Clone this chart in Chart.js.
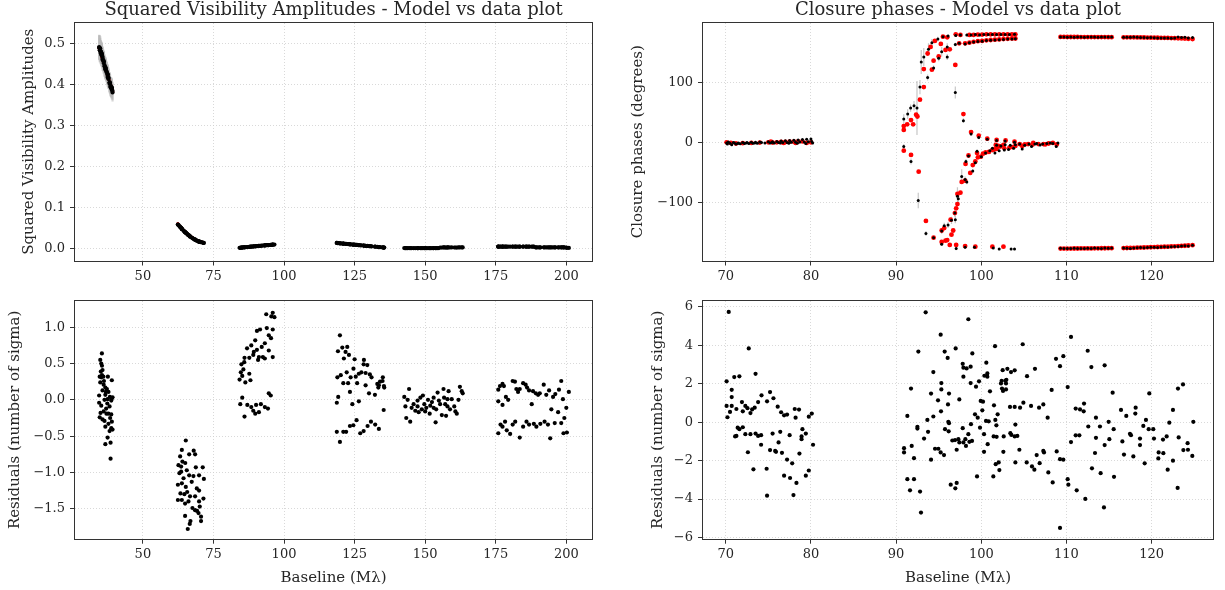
<!DOCTYPE html>
<html><head><meta charset="utf-8">
<script src="https://cdn.jsdelivr.net/npm/chart.js@4.4.1/dist/chart.umd.min.js"></script>
<style>
html,body{margin:0;padding:0;background:#fff;}
#wrap{position:relative;width:1225px;height:590px;overflow:hidden;background:#fff;}
canvas{position:absolute;}
</style></head><body>
<div id="wrap">
<canvas id="c1" width="612" height="295" style="left:0;top:0"></canvas>
<canvas id="c2" width="613" height="295" style="left:612px;top:0"></canvas>
<canvas id="c3" width="612" height="295" style="left:0;top:295px"></canvas>
<canvas id="c4" width="613" height="295" style="left:612px;top:295px"></canvas>
</div>
<script>
// ---------------- Squared visibilities: baseline (Mλ), V², sigma, residuals ----------------
const v2Baseline = [
 35.48,34.9,35.25,35.5,35.7,35.1,34.7,35.25,36.0,37.6,39.0,34.9,36.1,36.7,37.25,35.7,37.8,34.5,36.7,38.3,39.25,37.5,36.4,38.8,34.5,35.25,38.2,37.1,37.8,38.8,34.7,35.7,36.4,39.0,37.8,38.8,38.2,39.25,37.5,36.7,38.55,38.55,36.2,36.9,37.4,36.1,38.4,35.0,36.7,39.0,35.5,37.0,
 65.2,63.8,68.0,66.4,68.5,63.2,64.0,65.0,62.6,63.55,65.55,68.75,71.2,62.95,66.4,67.9,69.9,71.6,67.3,63.8,62.4,65.2,69.1,69.9,63.3,64.7,66.7,71.45,62.4,66.15,64.95,69.9,67.55,68.5,69.2,69.7,70.6,64.95,70.6,66.85,66.6,65.9,64.4,63.55,68.5,70.15,65.7,63.8,
 84.25,84.7,84.9,85.9,85.6,85.2,86.3,87.7,88.1,86.0,87.7,86.9,88.4,89.8,90.4,91.5,89.3,90.4,91.1,92.1,93.2,93.9,94.6,93.7,95.5,96.0,96.6,96.0,95.4,94.6,96.0,92.5,90.8,89.1,93.2,84.5,85.2,86.0,87.0,88.4,89.1,89.8,91.1,93.2,94.3,94.6,95.3,91.8,90.1,
 119.8,119.1,120.65,122.4,121.8,121.2,123.0,125.0,128.3,129.5,128.2,118.9,120.1,122.2,124.6,121.0,122.7,123.6,125.4,126.5,127.4,128.9,130.4,131.0,125.9,128.9,130.1,132.2,133.4,134.0,134.9,135.4,135.5,135.0,133.05,133.6,123.35,118.7,119.2,124.2,126.5,135.3,118.7,119.8,121.0,122.0,123.35,124.55,125.7,127.0,128.2,129.6,130.8,132.3,133.6,
 142.6,143.0,143.8,144.3,143.3,144.7,145.2,145.9,146.5,147.3,147.7,148.3,149.2,149.7,150.4,151.0,151.6,151.8,152.4,153.0,153.7,153.9,154.4,154.85,155.3,155.9,156.5,156.7,157.1,157.4,157.9,158.3,158.8,159.4,160.3,160.7,161.2,161.8,162.3,162.95,163.3,157.9,147.3,148.8,153.0,150.0,
 175.9,176.5,177.4,177.9,175.9,177.4,178.6,179.4,181.0,181.8,182.3,182.9,183.5,184.7,185.6,186.1,186.8,187.75,188.2,189.2,190.0,190.6,192.0,192.9,193.9,194.7,195.3,196.1,197.1,197.4,198.2,198.8,199.3,200.0,200.9,175.9,176.7,177.4,178.3,178.9,180.1,181.0,181.9,183.5,184.7,185.9,186.8,188.5,189.4,190.8,192.3,193.5,194.3,195.9,198.2,199.0,200.2
];
const v2Amplitude = [
 0.474,0.487,0.478,0.472,0.467,0.480,0.489,0.476,0.459,0.424,0.392,0.483,0.456,0.442,0.430,0.464,0.417,0.491,0.441,0.405,0.384,0.423,0.447,0.394,0.489,0.472,0.405,0.430,0.414,0.392,0.483,0.460,0.444,0.386,0.413,0.390,0.402,0.380,0.418,0.436,0.395,0.393,0.455,0.438,0.425,0.452,0.400,0.477,0.438,0.389,0.470,0.433,
 0.038,0.047,0.023,0.031,0.021,0.052,0.046,0.039,0.057,0.050,0.036,0.020,0.014,0.054,0.031,0.023,0.016,0.013,0.026,0.047,0.058,0.038,0.019,0.016,0.051,0.041,0.029,0.013,0.058,0.032,0.039,0.016,0.025,0.021,0.018,0.017,0.015,0.039,0.015,0.028,0.029,0.033,0.043,0.050,0.021,0.016,0.035,0.047,
 0.0010,0.0015,0.0015,0.0025,0.0020,0.0020,0.0025,0.0035,0.0040,0.0025,0.0035,0.0030,0.0040,0.0050,0.0055,0.0060,0.0045,0.0055,0.0060,0.0065,0.0070,0.0075,0.0080,0.0075,0.0085,0.0090,0.0090,0.0088,0.0083,0.0078,0.0087,0.0066,0.0056,0.0045,0.0070,0.0010,0.0018,0.0022,0.0030,0.0038,0.0044,0.0048,0.0057,0.0069,0.0075,0.0079,0.0083,0.0060,0.0050,
 0.0122,0.0127,0.0116,0.0104,0.0108,0.0112,0.0100,0.0087,0.0065,0.0057,0.0066,0.0128,0.0119,0.0105,0.0089,0.0113,0.0102,0.0096,0.0084,0.0077,0.0071,0.0061,0.0051,0.0047,0.0081,0.0061,0.0053,0.0039,0.0031,0.0027,0.0021,0.0018,0.0017,0.0020,0.0033,0.0029,0.0097,0.0130,0.0126,0.0091,0.0077,0.0018,0.0130,0.0121,0.0113,0.0106,0.0097,0.0089,0.0082,0.0073,0.0066,0.0056,0.0048,0.0038,0.0029,
 0.0004,0.0003,0.0003,0.0004,0.0002,0.0002,0.0003,0.0003,0.0002,0.0003,0.0002,0.0003,0.0004,0.0003,0.0003,0.0003,0.0002,0.0003,0.0003,0.0004,0.0002,0.0003,0.0004,0.0004,0.0019,0.0018,0.0021,0.0020,0.0019,0.0018,0.0020,0.0021,0.0019,0.0020,0.0019,0.0019,0.0018,0.0020,0.0022,0.0021,0.0021,0.0019,0.0003,0.0003,0.0003,0.0003,
 0.0041,0.0041,0.0042,0.0041,0.0040,0.0040,0.0040,0.0040,0.0041,0.0041,0.0040,0.0040,0.0040,0.0041,0.0041,0.0040,0.0040,0.0039,0.0040,0.0022,0.0022,0.0022,0.0023,0.0022,0.0022,0.0021,0.0022,0.0022,0.0021,0.0022,0.0023,0.0022,0.0021,0.0015,0.0008,0.0039,0.0040,0.0040,0.0040,0.0039,0.0039,0.0040,0.0040,0.0039,0.0040,0.0040,0.0040,0.0039,0.0021,0.0021,0.0021,0.0021,0.0020,0.0021,0.0021,0.0020,0.0012
];
// sigma of the first (short-baseline) group; the others are too small to see
const v2Error = [
 0.028,0.030,0.027,0.029,0.026,0.028,0.031,0.027,0.026,0.024,0.023,0.029,0.026,0.025,0.025,0.027,0.024,0.030,0.025,0.024,0.022,0.024,0.026,0.023,0.030,0.028,0.024,0.025,0.024,0.023,0.029,0.027,0.026,0.023,0.024,0.023,0.024,0.022,0.024,0.025,0.023,0.023,0.026,0.025,0.025,0.026,0.024,0.028,0.025,0.023,0.027,0.025
];
const v2Residual = [
 0.64,0.55,0.50,0.47,0.41,0.39,0.32,0.31,0.32,0.32,0.27,0.24,0.21,0.17,0.15,0.13,0.11,0.06,0.07,0.04,0.035,0.01,0.0,-0.01,-0.04,-0.08,-0.09,-0.19,-0.19,-0.2,-0.24,-0.27,-0.29,-0.3,-0.33,-0.39,-0.43,-0.41,-0.52,-0.61,-0.59,-0.81,0.26,0.11,-0.05,-0.16,-0.25,-0.18,-0.37,0.02,0.34,-0.12,
 -0.56,-0.69,-0.70,-0.75,-0.75,-0.78,-0.85,-0.87,-0.90,-0.92,-0.97,-0.93,-0.93,-1.01,-1.04,-1.05,-1.04,-1.09,-1.13,-1.15,-1.17,-1.20,-1.22,-1.25,-1.29,-1.30,-1.33,-1.36,-1.38,-1.40,-1.43,-1.40,-1.49,-1.52,-1.53,-1.56,-1.61,-1.60,-1.67,-1.67,-1.71,-1.78,-1.08,-0.99,-1.33,-1.47,-1.27,-1.38,
 0.28,0.38,0.49,0.52,0.42,0.33,0.24,0.36,0.27,0.58,0.58,0.71,0.75,0.82,0.95,0.97,0.66,0.69,0.59,0.73,0.78,0.99,0.89,1.18,1.15,1.20,1.14,0.97,0.85,0.68,0.59,0.59,0.55,0.62,0.57,-0.06,0.03,-0.23,-0.07,-0.10,-0.15,-0.19,-0.17,-0.10,-0.12,0.09,0.06,-0.06,-0.07,
 0.89,0.67,0.72,0.73,0.66,0.57,0.62,0.56,0.55,0.48,0.49,0.31,0.34,0.38,0.43,0.23,0.23,0.31,0.32,0.36,0.38,0.37,0.35,0.31,0.23,0.20,0.09,0.07,0.17,0.25,0.26,0.19,0.17,0.31,0.22,0.20,0.11,-0.04,0.04,-0.06,-0.02,-0.14,-0.44,-0.58,-0.44,-0.44,-0.36,-0.35,-0.28,-0.46,-0.43,-0.36,-0.30,-0.34,-0.40,
 0.04,-0.09,0.0,0.15,-0.25,-0.30,-0.11,-0.06,-0.15,-0.01,-0.17,0.03,0.06,-0.06,-0.11,0.0,-0.19,-0.08,-0.03,0.03,-0.31,-0.13,0.10,-0.01,-0.06,-0.21,0.15,0.03,-0.06,-0.22,0.01,0.12,-0.13,0.01,-0.09,-0.16,-0.19,0.0,0.18,0.12,0.09,-0.09,-0.09,-0.13,-0.11,-0.16,
 0.14,0.19,0.22,0.19,-0.02,-0.07,0.04,0.0,0.26,0.25,0.15,0.11,0.15,0.23,0.21,0.17,0.13,-0.06,0.12,0.09,0.07,0.09,0.21,0.07,0.13,-0.13,0.04,0.08,-0.17,0.14,0.26,0.01,-0.25,-0.11,0.11,-0.46,-0.34,-0.37,-0.30,-0.42,-0.47,-0.34,-0.30,-0.52,-0.37,-0.30,-0.34,-0.33,-0.37,-0.33,-0.30,-0.34,-0.53,-0.32,-0.32,-0.46,-0.45
];
// model V² [baseline, value]
const v2Model = [
 [34.5,0.488],[35.0,0.477],[35.5,0.466],[36.0,0.455],[36.5,0.444],[37.0,0.433],[37.5,0.422],[38.0,0.411],[38.5,0.400],[39.0,0.389],[39.3,0.382],
 [62.4,0.060],[63.0,0.055],[63.5,0.051],[64.0,0.047],[64.5,0.044],[65.0,0.040],[65.5,0.037],[66.0,0.034],[66.5,0.031],[67.0,0.029],[67.5,0.026],[68.0,0.024],[68.5,0.022],[69.0,0.020],[69.5,0.018],[70.0,0.017],[70.5,0.016],[71.0,0.015],[71.5,0.014]
];

// ---------------- Closure phases: [baseline, phase (deg), sigma] ----------------
const cpMeasured = [
 [70.1,-1,1.5],[70.5,-1.5,1.5],[71.0,-1,1.5],[71.5,-1,1.5],[72.0,-0.5,1.5],[72.5,-0.5,1.5],[73.0,0,1.5],[73.5,0,1.5],[74.0,0.5,1.5],[75.0,1,1.5],[75.5,1,1.5],[76.0,1.5,1.5],[76.5,2,1.5],[77.0,2.5,1.5],[77.5,3,1.5],[78.0,3.5,1.5],[78.5,4,1.5],[79.0,4.5,1.5],[79.5,5,1.5],[80.0,5.5,1.5],
 [70.2,-3,1.5],[70.7,-4,1.5],[71.2,-3,1.5],[71.7,-2.5,1.5],[72.2,-2,1.5],[72.7,-2,1.5],[73.2,-1.5,1.5],[73.7,-1.5,1.5],[75.2,-1,1.5],[75.7,-1,1.5],[76.2,-0.5,1.5],[76.7,-0.5,1.5],[77.2,-0.5,1.5],[77.7,0,1.5],[78.2,0,1.5],[78.7,0.5,1.5],[79.2,0.5,1.5],[79.7,1,1.5],[80.1,1.5,1.5],
 [70.3,0.5,1.5],[70.9,-0.5,1.5],[71.4,-2,1.5],[72.4,-1,1.5],[73.4,-1,1.5],[74.2,-0.5,1.5],[74.6,-1,1.5],[75.4,-0.5,1.5],[76.4,-1,1.5],[77.4,-1.5,1.5],[78.4,-1.5,1.5],[79.4,-2,1.5],[80.2,-1,1.5],
 [90.9,38.9,8],[91.36,47,8],[91.7,57,6],[92.1,61,8],[92.45,57,45],[92.8,92,12],[92.95,134,20],[93.25,142,15],[93.7,108,5],[93.8,155,10],[94.2,166,6],[94.4,124,4],[94.9,172,4],[95.0,140,5],[95.35,151,8],[95.5,176,3],[96.0,159,6],[96.1,177,3],[96.0,142,5],[96.95,163,3],[97.0,178,2],[96.95,83,10],[97.4,165,3],[97.55,179,2],[97.9,36,4],
 [98.3,179,2],[98.8,179,2],[99.3,179.5,2],[99.8,179,2],[100.3,179.5,2],[100.8,179.5,2],[101.3,179.5,2],[101.8,179.5,2],[102.3,179.5,2],[102.8,179.5,2],[103.3,179.5,2],[103.9,180,2],
 [98.1,164,2],[98.6,166,2],[99.1,167,2],[99.6,168,2],[100.1,168.5,2],[100.6,169.5,2],[101.1,170,2],[101.6,170.5,2],[102.1,171,2],[102.6,171.5,2],[103.1,172,2],[103.6,172,2],[104.0,172.5,2],
 [98.8,14,3],[99.7,8,3],[100.7,5,2],[101.8,3,2],[102.8,2,2],[103.9,0,2],
 [90.9,-7,4],[91.75,-32,5],[92.6,-97,13],[93.5,-152,4],[94.4,-159,3],[95.35,-148,5],[95.35,-170,3],[95.65,-139,5],[96.1,-138,5],[96.5,-130,6],[96.95,-129,6],[96.9,-118,6],[97.2,-90,15],[97.3,-94,8],[97.05,-177,3],[97.7,-57,12],[98.1,-62,5],[98.3,-66,4],[98.2,-32,4],[98.5,-23,3],[99.0,-48,3],[99.5,-15,3],[99.3,-34,3],[100.0,-24,3],[100.5,-18,2],[101.0,-14,2],[101.3,-10,2],[101.6,-18,2],[102.1,-14,2],[102.7,-13,2],[103.2,-12,2],[103.8,-10,2],[104.8,-11,2],[105.9,-7,2],[106.3,-3,2],[106.9,-4.5,2],[107.7,-2,2],[108.1,-1,2],[108.8,-7,2],
 [101.8,-5,2],[102.3,-6,2],[102.8,-4,2],[103.4,-5,2],[104.0,-4,2],[104.5,-3,2],[105.1,-5,2],[105.6,-3,2],[106.5,-2,2],[107.2,-3,2],[108.4,-2,2],[109.0,-1,2],
 [98.1,-175,2],[99.2,-175,2],[101.4,-176,2],[102.1,-178,2],[103.5,-178,2],[103.9,-178,2],
 [109.3,175.5,1.5],[109.7,175.5,1.5],[110.1,175.2,1.5],[110.5,175.5,1.5],[110.9,175,1.5],[111.3,175.3,1.5],[111.7,175.5,1.5],[112.1,175.2,1.5],[112.5,175.5,1.5],[112.9,175.3,1.5],[113.3,175.5,1.5],[113.7,175.2,1.5],[114.1,175.4,1.5],[114.5,175.5,1.5],[114.9,175.3,1.5],[115.3,175.5,1.5],
 [116.7,175,1.5],[117.1,175.2,1.5],[117.5,175,1.5],[117.9,175.3,1.5],[118.3,175,1.5],[118.7,174.8,1.5],[119.1,174.5,1.5],[119.5,174.2,1.5],[119.9,174.5,1.5],[120.3,174.2,1.5],[120.7,174,1.5],[121.1,174,1.5],[121.5,173.8,1.5],[121.9,174,1.5],[122.3,173.5,1.5],[122.7,173.8,1.5],[123.1,175.5,1.5],[123.5,174.5,1.5],[123.9,175,1.5],[124.3,174,1.5],[124.8,174.5,1.5],
 [109.3,-176.5,1.5],[109.7,-177,1.5],[110.1,-176.8,1.5],[110.5,-177,1.5],[110.9,-176.5,1.5],[111.3,-177,1.5],[111.7,-176.8,1.5],[112.1,-177,1.5],[112.5,-176.5,1.5],[112.9,-176.8,1.5],[113.3,-176,1.5],[113.7,-176.5,1.5],[114.1,-176.8,1.5],[114.5,-176,1.5],[114.9,-176.5,1.5],[115.3,-176.2,1.5],
 [116.7,-176,1.5],[117.1,-176.5,1.5],[117.5,-176.8,1.5],[117.9,-176.2,1.5],[118.3,-175.8,1.5],[118.7,-175.5,1.5],[119.1,-175.8,1.5],[119.5,-175.2,1.5],[119.9,-175,1.5],[120.3,-174.8,1.5],[120.7,-175.2,1.5],[121.1,-174.5,1.5],[121.5,-174.2,1.5],[121.9,-174.5,1.5],[122.3,-174,1.5],[122.7,-173.8,1.5],[123.1,-173.5,1.5],[123.5,-173,1.5],[123.9,-172.5,1.5],[124.3,-172.8,1.5],[124.8,-171.5,1.5]
];
// model closure phases [baseline, phase]
const cpModel = [
 [70.1,0],[70.6,-1],[71.2,-2],[72.0,-1.5],[73.0,-1],[74.0,-0.5],[75.0,0],[75.5,-0.5],[76.0,0],[76.5,0.5],[77.0,0.5],[77.5,1],[78.0,1],[78.5,1.5],[79.0,1.5],[79.5,-1],[80.0,0],[75.3,1],[76.8,-1],[78.2,-1],
 [90.9,27],[90.9,20.6],[91.3,30],[91.75,37],[92.0,30],[92.35,46],[92.5,43],[92.8,71],[93.25,92],[93.25,122],[93.7,148],[94.05,159],[94.2,121],[94.4,136],[94.55,169],[95.0,143],[95.25,164],[95.5,176],[95.8,154],[96.0,175],[96.3,155],[97.0,180],[96.95,129],[97.4,165],[97.55,179],[97.9,47],[98.1,165],[98.8,17],[99.7,11],[100.7,6],[101.8,4],[102.85,3],[103.9,1],
 [98.6,179],[99.1,179],[99.6,179.5],[100.1,179.5],[100.6,180],[101.1,180],[101.6,180],[102.1,180],[102.6,180],[103.1,180],[103.6,180],[104.0,180],
 [98.6,166],[99.1,167.5],[99.6,168.5],[100.1,169],[100.6,170],[101.1,170.5],[101.6,171],[102.1,171.5],[102.6,172],[103.1,172.5],[103.6,173],[104.0,173],
 [90.9,-14],[91.75,-21],[92.65,-49],[93.5,-131],[94.4,-159],[95.35,-147],[95.35,-166],[95.65,-143],[95.8,-164],[96.0,-163],[96.3,-171],[96.4,-129],[96.5,-154],[96.7,-147],[96.9,-118],[97.05,-110],[97.2,-103],[97.2,-86],[97.55,-84],[97.7,-66],[98.1,-64],[98.15,-36],[98.5,-22],[98.7,-51],[99.0,-38],[99.3,-32],[99.5,-18],[99.6,-25],[99.95,-24],[100.2,-19],[100.5,-17],[100.9,-16],[101.3,-13],[101.8,-11],[102.0,-6],[97.05,-171],[98.1,-173],[99.3,-174],[101.3,-174],[102.6,-174],
 [101.5,-12],[101.7,-4.5],[102.2,-7],[102.6,-4.5],[103.3,-9],[104.0,-6],[104.5,-3],[105.1,-3.5],[105.5,-3],[106.1,-1],[106.7,-3],[107.3,-3],[107.9,-2],[108.4,-1],[108.85,-3.5],[102.7,-10],[103.7,-8],[104.8,-6],[106.0,-4],[107.5,-3.5],
 [109.3,175.6],[109.7,175.6],[110.1,175.5],[110.5,175.5],[110.9,175.5],[111.3,175.5],[111.7,175.4],[112.1,175.4],[112.5,175.4],[112.9,175.4],[113.3,175.3],[113.7,175.3],[114.1,175.3],[114.5,175.3],[114.9,175.2],[115.3,175.2],
 [116.7,175.0],[117.1,175.0],[117.5,174.9],[117.9,174.9],[118.3,174.8],[118.7,174.7],[119.1,174.6],[119.5,174.5],[119.9,174.4],[120.3,174.3],[120.7,174.2],[121.1,174.1],[121.5,174.0],[121.9,173.9],[122.3,173.7],[122.7,173.5],[123.1,173.3],[123.5,173.1],[123.9,172.8],[124.3,172.5],[124.8,172.0],
 [109.3,-177.2],[109.7,-177.2],[110.1,-177.1],[110.5,-177.1],[110.9,-177.0],[111.3,-177.0],[111.7,-176.9],[112.1,-176.9],[112.5,-176.8],[112.9,-176.8],[113.3,-176.7],[113.7,-176.7],[114.1,-176.6],[114.5,-176.6],[114.9,-176.5],[115.3,-176.5],
 [116.7,-176.3],[117.1,-176.2],[117.5,-176.0],[117.9,-175.9],[118.3,-175.7],[118.7,-175.5],[119.1,-175.3],[119.5,-175.1],[119.9,-174.9],[120.3,-174.7],[120.7,-174.5],[121.1,-174.3],[121.5,-174.1],[121.9,-173.9],[122.3,-173.6],[122.7,-173.3],[123.1,-173.0],[123.5,-172.7],[123.9,-172.4],[124.3,-172.0],[124.8,-171.5]
];
// closure phase residuals [baseline, number of sigma]
const cpResidual = [
 [70.35,5.74],[72.7,3.84],[73.5,2.52],[70.1,2.13],[71.0,2.35],[71.6,2.39],[70.7,1.69],[70.7,1.31],[70.1,0.85],[70.2,0.26],[70.5,0.54],[70.7,0.85],[71.25,0.69],[71.9,1.05],[72.0,0.57],[72.3,0.85],[72.55,0.73],[72.9,0.48],[73.1,0.67],[73.4,0.76],[73.8,1.05],[74.2,1.4],[74.85,1.09],[75.2,1.57],[75.6,1.25],[76.1,0.81],[76.5,0.52],[76.85,0.36],[77.2,0.4],[78.1,0.69],[78.6,0.66],[78.2,0.24],[79.75,0.29],[80.1,0.45],
 [71.4,-0.28],[71.25,-0.71],[71.1,-0.74],[71.6,-0.36],[72.0,-0.26],[72.3,-0.62],[72.9,-0.62],[73.5,-0.59],[73.8,-0.71],[74.15,-0.67],[74.15,-1.17],[75.5,-0.59],[76.4,-0.5],[77.5,-0.67],[76.2,-1.05],[79.0,-0.36],[79.4,-0.59],[78.9,-0.88],[78.9,-0.74],[80.25,-1.17],[72.6,-1.56],[75.2,-1.45],[75.8,-1.49],[75.9,-1.54],[76.6,-1.59],[77.2,-1.94],[77.8,-2.14],[78.65,-1.63],[73.25,-2.45],[74.8,-2.42],[76.85,-2.78],[77.55,-2.9],[78.3,-3.16],[79.4,-2.78],[79.75,-2.51],[74.85,-3.82],[77.95,-3.79],
 [93.47,5.72],[98.48,5.36],[95.23,4.56],[92.61,3.68],[95.7,3.68],[96.05,3.35],[96.99,3.84],[98.95,3.58],[97.82,3.04],[97.9,2.84],[98.28,2.8],[98.75,2.89],[97.9,2.37],[100.59,3.1],[99.38,1.85],[99.73,2.13],[98.75,2.04],[100.36,2.42],[100.71,2.54],[100.71,2.37],[95.31,2.04],[95.31,1.71],[94.37,2.61],[91.75,1.75],[94.1,1.49],[96.21,1.49],[94.92,1.14],[97.42,1.19],[96.09,0.93],[95.27,0.57],[94.37,0.3],[93.67,0.12],[91.32,0.33],[92.5,-0.24],[92.5,-0.33],[93.75,-0.5],[93.28,-0.85],[90.93,-1.35],[90.93,-1.57],[91.83,-1.23],[92.1,-1.87],[91.32,-2.96],[92.1,-2.96],[91.63,-3.54],[92.81,-3.61],[92.92,-4.7],
 [94.1,-1.95],[94.57,-1.38],[94.96,-1.38],[95.23,-1.57],[95.62,-1.71],[96.13,0.02],[96.21,-0.05],[96.17,-0.47],[95.74,-0.36],[96.6,-0.95],[96.92,-0.93],[97.11,-1.43],[97.31,-0.88],[97.42,-1.05],[97.9,-1.05],[98.13,-0.88],[98.48,-0.62],[98.6,-1.02],[98.91,-0.97],[98.2,-1.23],[97.82,-0.31],[96.41,-3.25],[96.95,-3.44],[97.11,-3.16],[99.5,-2.82],[98.79,-0.1],[99.26,0.41],[99.85,-0.28],[99.93,1.11],[100.2,1.07],[100.32,-1.54],[99.58,0.24],[100.55,0.07],[100.87,0.05],[100.32,-0.62],[100.12,0.62],
 [101.02,1.61],[101.49,0.88],[101.65,0.12],[101.77,-0.16],[101.45,-0.74],[101.8,-0.76],[100.75,-1.14],[101.92,0.41],[102.43,1.75],[102.55,1.63],[102.63,-0.74],[101.69,-2.18],[102.04,-2.09],[102.12,-2.49],[101.41,-2.82],[102.59,-1.54],[101.61,3.96],[102.51,2.71],[103.06,2.78],[103.49,2.61],[103.92,2.7],[102.94,2.21],[102.82,2.16],[102.39,2.16],[102.31,2.02],[102.9,2.02],[102.9,1.71],[103.37,0.8],[103.92,0.8],[104.0,-0.12],[104.55,0.76],[103.41,-0.57],[103.53,-0.66],[103.92,-0.74],[104.23,-0.71],[104.47,-1.43],[104.0,-2.09],
 [104.86,4.06],[104.94,1.02],[105.37,2.4],[105.84,0.85],[106.3,2.78],[106.78,0.76],[107.28,0.93],[107.79,0.24],[105.33,-2.09],[105.95,-2.3],[106.23,-2.47],[106.5,-1.71],[106.85,-2.13],[107.28,-1.49],[107.36,-1.57],[107.87,-2.61],[108.38,-3.13],[108.26,1.68],[108.77,3.3],[109.24,2.92],[109.63,3.44],[108.85,-1.52],[109.24,-1.92],[109.63,-1.95],[109.24,-5.5],
 [110.14,1.83],[110.53,4.44],[110.53,-1.03],[110.14,-2.96],[110.22,-3.25],[111.2,-3.54],[111.08,-0.68],[111.51,-0.68],[111.08,0.71],[111.59,0.67],[112.02,0.57],[112.06,0.97],[112.21,-3.99],[112.49,3.72],[112.92,2.87],[112.56,-0.22],[113.35,-1.6],[112.99,-2.4],[113.46,0.24],[113.46,-0.81],[113.93,-0.22],[114.01,-2.65],[114.48,-1.19],[114.48,2.96],[114.4,-4.43],[114.95,0.02],[115.03,-0.88],[115.42,1.54],[115.54,-0.36],[115.58,-2.84],
 [116.4,0.64],[116.56,-1.0],[116.75,-1.68],[117.02,0.33],[117.45,-0.6],[117.57,-0.67],[118.12,0.76],[118.08,0.45],[117.85,-1.78],[118.63,-0.85],[118.63,-1.19],[119.18,-2.14],[119.02,-0.19],[119.33,0.12],[119.72,1.5],[119.65,-0.36],[120.19,-0.36],[120.27,-0.85],[120.82,-1.57],[120.78,-1.88],[121.37,-1.61],[121.33,-0.9],[121.76,-0.74],[121.88,-2.47],[122.07,-0.02],[122.5,0.64],[122.5,-2.0],[123.09,1.75],[123.17,-0.79],[123.05,-3.42],[123.68,1.97],[123.72,-1.45],[124.22,-1.09],[124.26,-1.43],[124.77,-1.75],[124.89,0.02]
];

// ---------------- tick labels ----------------
const v2BaselineTicks = [50, 75, 100, 125, 150, 175, 200];
const v2Ticks = [0.0, 0.1, 0.2, 0.3, 0.4, 0.5];
const v2ResidualTicks = [-1.5, -1.0, -0.5, 0.0, 0.5, 1.0];
const cpBaselineTicks = [70, 80, 90, 100, 110, 120];
const cpTicks = [-100, 0, 100];
const cpResidualTicks = [-6, -4, -2, 0, 2, 4, 6];

// ---------------- rendering ----------------
const FONT = "'DejaVu Serif', 'Liberation Serif', serif";
const TXT = '#262626';
Chart.defaults.font.family = FONT;
Chart.defaults.color = TXT;

function fmt(v, dec) {
  const r = Math.abs(v) < 1e-9 ? 0 : v;
  const s = Math.abs(r).toFixed(dec);
  return (r < 0 ? '\u2212' : '') + s;
}

const framePlugin = {
  id: 'frame',
  afterDatasetsDraw(chart) {
    const a = chart.chartArea, ctx = chart.ctx;
    ctx.save();
    ctx.strokeStyle = '#333333';
    ctx.lineWidth = 1;
    const l = Math.round(a.left) - 0.5, t = Math.round(a.top) - 0.5;
    const r = Math.round(a.right) + 0.5, b = Math.round(a.bottom) + 0.5;
    ctx.strokeRect(l, t, r - l, b - t);
    ctx.restore();
  }
};

const errorBarPlugin = {
  id: 'errorBars',
  beforeDatasetsDraw(chart) {
    const ctx = chart.ctx, a = chart.chartArea;
    const xs = chart.scales.x, ys = chart.scales.y;
    chart.data.datasets.forEach(ds => {
      if (!ds.errorBars) return;
      ctx.save();
      ctx.beginPath();
      ctx.rect(a.left, a.top, a.right - a.left, a.bottom - a.top);
      ctx.clip();
      ctx.strokeStyle = ds.errorBarColor;
      ctx.lineWidth = ds.errorBarWidth;
      ds.data.forEach((p, j) => {
        const e = ds.errorBars[j];
        if (e == null) return;
        const x = xs.getPixelForValue(p.x);
        ctx.beginPath();
        ctx.moveTo(x, ys.getPixelForValue(p.y - e));
        ctx.lineTo(x, ys.getPixelForValue(p.y + e));
        ctx.stroke();
      });
      ctx.restore();
    });
  }
};

function axis(opt) {
  return {
    type: 'linear',
    min: opt.min, max: opt.max,
    afterBuildTicks: ax => { ax.ticks = opt.ticks.map(v => ({ value: v })); },
    afterFit: ax => {
      if (opt.size != null) { if (opt.horizontal) ax.height = opt.size; else ax.width = opt.size; }
      ax.paddingTop = 0; ax.paddingBottom = 0; ax.paddingLeft = 0; ax.paddingRight = 0;
    },
    ticks: {
      font: { size: 13, family: FONT }, color: TXT, padding: opt.horizontal ? 3 : 5,
      maxRotation: 0, autoSkip: false,
      callback: v => fmt(v, opt.dec)
    },
    grid: {
      color: '#cfcfcf', lineWidth: 0.8, drawTicks: true, tickLength: 5,
      tickColor: '#333333', tickWidth: 1
    },
    border: { display: false, dash: [1, 2] },
    title: {
      display: !!opt.title, text: opt.title || '', color: TXT,
      font: { size: 15, family: FONT },
      padding: opt.horizontal ? { top: 0, bottom: opt.titlePad } : { top: opt.titlePad, bottom: 0 }
    }
  };
}

function makeChart(id, cfg) {
  return new Chart(document.getElementById(id), {
    type: 'scatter',
    data: { datasets: cfg.datasets },
    options: {
      responsive: false, animation: false, devicePixelRatio: 1, events: [],
      layout: { padding: { left: 0, right: cfg.padRight, top: cfg.padTop, bottom: 0 } },
      plugins: {
        legend: { display: false }, tooltip: { enabled: false },
        title: cfg.title ? {
          display: true, text: cfg.title, color: TXT, fullSize: false,
          font: { size: 18, weight: 'normal', family: FONT },
          padding: { top: 0, bottom: 1.4 }
        } : { display: false }
      },
      scales: { x: cfg.x, y: cfg.y }
    },
    plugins: [errorBarPlugin, framePlugin]
  });
}

const dot = (color, r) => ({ pointRadius: r, pointHoverRadius: r, pointBackgroundColor: color, pointBorderWidth: 0, borderWidth: 0, backgroundColor: color });

// Top-left: squared visibilities
makeChart('c1', {
  title: 'Squared Visibility Amplitudes - Model vs data plot',
  padRight: 20, padTop: 0,
  datasets: [
    Object.assign({ data: v2Baseline.map((b, i) => ({ x: b, y: v2Amplitude[i] })),
      errorBars: v2Error, errorBarColor: 'rgba(185,185,185,0.6)', errorBarWidth: 2.2 }, dot('#000000', 2.1)),
    Object.assign({ data: v2Model.map(p => ({ x: p[0], y: p[1] })) }, dot('#ff0000', 1.6))
  ],
  x: axis({ min: 25.95, max: 209.1, ticks: v2BaselineTicks, dec: 0, horizontal: true, size: 34.5 }),
  y: axis({ min: -0.0298, max: 0.5495, ticks: v2Ticks, dec: 1, size: 75, title: 'Squared Visibility Amplitudes', titlePad: 20 })
});

// Top-right: closure phases
makeChart('c2', {
  title: 'Closure phases - Model vs data plot',
  padRight: 12, padTop: 0,
  datasets: [
    Object.assign({ data: cpMeasured.map(p => ({ x: p[0], y: p[1] })),
      errorBars: cpMeasured.map(p => p[2]), errorBarColor: 'rgba(175,175,175,0.7)', errorBarWidth: 1.2 }, dot('#000000', 1.5)),
    Object.assign({ data: cpModel.map(p => ({ x: p[0], y: p[1] })) }, dot('#ff0000', 2.4))
  ],
  x: axis({ min: 67.33, max: 127.2, ticks: cpBaselineTicks, dec: 0, horizontal: true, size: 34.5 }),
  y: axis({ min: -197, max: 198.8, ticks: cpTicks, dec: 0, size: 91, title: 'Closure phases (degrees)', titlePad: 17.5 })
});

// Bottom-left: V² residuals
makeChart('c3', {
  padRight: 20, padTop: 6,
  datasets: [
    Object.assign({ data: v2Baseline.map((b, i) => ({ x: b, y: v2Residual[i] })) }, dot('#000000', 2.1))
  ],
  x: axis({ min: 25.95, max: 209.1, ticks: v2BaselineTicks, dec: 0, horizontal: true, size: 51.3, title: 'Baseline (M\u03bb)', titlePad: 3 }),
  y: axis({ min: -1.9134, max: 1.3625, ticks: v2ResidualTicks, dec: 1, size: 75, title: 'Residuals (number of sigma)', titlePad: 6 })
});

// Bottom-right: closure phase residuals
makeChart('c4', {
  padRight: 12, padTop: 6,
  datasets: [
    Object.assign({ data: cpResidual.map(p => ({ x: p[0], y: p[1] })) }, dot('#000000', 2.1))
  ],
  x: axis({ min: 67.33, max: 127.2, ticks: cpBaselineTicks, dec: 0, horizontal: true, size: 51.3, title: 'Baseline (M\u03bb)', titlePad: 3 }),
  y: axis({ min: -6.06, max: 6.31, ticks: cpResidualTicks, dec: 0, size: 91, title: 'Residuals (number of sigma)', titlePad: 37 })
});
</script>
</body></html>
